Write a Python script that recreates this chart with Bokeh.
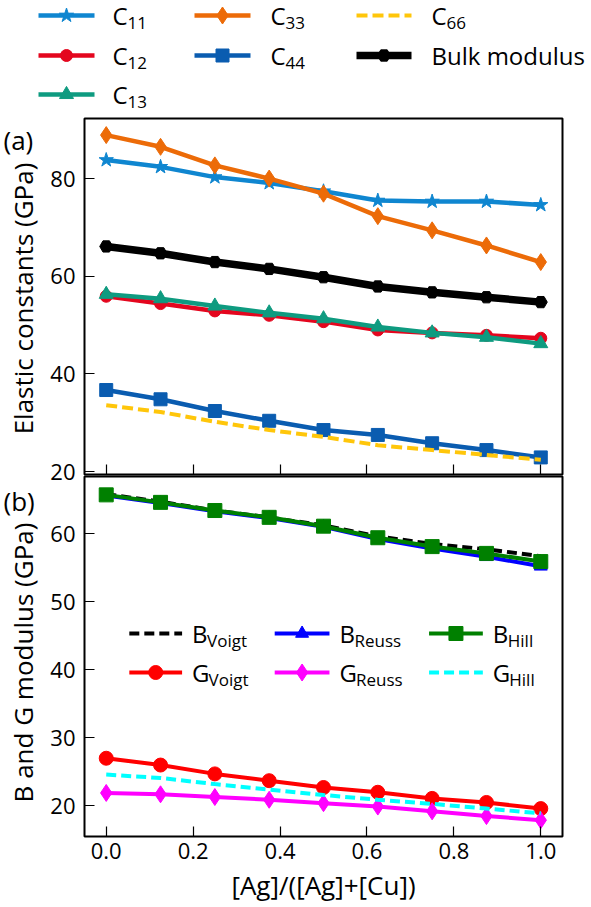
import math
from bokeh.plotting import figure
from bokeh.layouts import column, row
from bokeh.models import Range1d, FixedTicker
from bokeh.embed import file_html
from bokeh.resources import INLINE
from bokeh.core.properties import value

# ---------------- data ----------------
x = [0.0, 0.125, 0.25, 0.375, 0.5, 0.625, 0.75, 0.875, 1.0]
c11 = [83.8, 82.4, 80.3, 79.1, 77.4, 75.5, 75.3, 75.3, 74.6]
c12 = [55.9, 54.4, 52.9, 52.0, 50.7, 49.0, 48.4, 47.9, 47.3]
c13 = [56.3, 55.4, 53.9, 52.5, 51.3, 49.6, 48.4, 47.5, 46.2]
c33 = [88.9, 86.5, 82.7, 80.0, 76.9, 72.3, 69.4, 66.3, 62.9]
c44 = [36.7, 34.8, 32.4, 30.4, 28.5, 27.5, 25.8, 24.4, 22.9]
c66 = [33.6, 32.2, 30.2, 28.5, 27.1, 25.4, 24.4, 23.4, 22.4]
bulk = [66.1, 64.7, 62.9, 61.5, 59.8, 57.9, 56.7, 55.7, 54.7]

b_voigt = [65.8, 64.7, 63.4, 62.4, 61.2, 59.6, 58.5, 57.7, 56.7]
b_reuss = [65.6, 64.5, 63.3, 62.3, 61.0, 59.2, 57.8, 56.6, 55.2]
b_hill = [65.7, 64.6, 63.4, 62.4, 61.1, 59.4, 58.1, 57.1, 55.9]
g_voigt = [27.0, 26.0, 24.7, 23.7, 22.7, 22.0, 21.1, 20.5, 19.6]
g_reuss = [21.9, 21.7, 21.3, 20.9, 20.4, 19.9, 19.2, 18.5, 17.9]
g_hill = [24.6, 24.1, 23.2, 22.4, 21.6, 20.9, 20.3, 19.6, 18.9]

x_ticks = [0.0, 0.2, 0.4, 0.6, 0.8, 1.0]
x_tick_labels = ["0.0", "0.2", "0.4", "0.6", "0.8", "1.0"]
a_ticks = [20, 40, 60, 80]
b_ticks = [20, 30, 40, 50, 60]
x_title = "[Ag]/([Ag]+[Cu])"
a_title = "Elastic constants (GPa)"
b_title = "B and G modulus (GPa)"
a_tag = "(a)"
b_tag = "(b)"

FONT = "Open Sans"
FS = "22px"
XLABFS = "26px"
YLABFS = "26px"
TAGFS = "26px"
LEGFS = "24px"
SUBFS = "17px"

# --------------- styles ---------------
top_series = [
    # key, main, sub, data, color, marker, msize, lw, dash
    ("C11", "C", "11", c11, "#0F86D0", "star", 15, 4.5, "solid"),
    ("C12", "C", "12", c12, "#E4061E", "circle", 12, 4.5, "solid"),
    ("C13", "C", "13", c13, "#0E9B80", "triangle", 14, 4.5, "solid"),
    ("C33", "C", "33", c33, "#EC6B08", "diamond", 17, 4.5, "solid"),
    ("C44", "C", "44", c44, "#0A5CB0", "square", 13, 4.5, "solid"),
    ("C66", "C", "66", c66, "#FFC60A", None, 0, 4, "11 5"),
    ("Bulk", "Bulk modulus", "", bulk, "#000000", "hex", 13, 7.5, "solid"),
]
top_legend_pos = {  # line start, line end, text x, row y (page pixels)
    "C11": (38, 94, 112, 15), "C12": (38, 94, 112, 55), "C13": (38, 94, 112, 94),
    "C33": (194, 250, 270, 15), "C44": (194, 250, 270, 55),
    "C66": (356, 411, 431, 15), "Bulk": (356, 411, 431, 55),
}

bot_series = [
    ("BV", "B", "Voigt", b_voigt, "#000000", None, 0, 4, "10 5"),
    ("BR", "B", "Reuss", b_reuss, "#0000FF", "triangle", 13, 4, "solid"),
    ("BH", "B", "Hill", b_hill, "#008000", "square", 14, 4, "solid"),
    ("GV", "G", "Voigt", g_voigt, "#FF0000", "circle", 14, 4, "solid"),
    ("GR", "G", "Reuss", g_reuss, "#FF00FF", "diamond", 17, 4, "solid"),
    ("GH", "G", "Hill", g_hill, "#00FFFF", None, 0, 4, "10 5"),
]
bot_legend_pos = {
    "BV": (127, 180, 190, 633), "GV": (127, 180, 190, 672),
    "BR": (273, 328, 338, 633), "GR": (273, 328, 338, 672),
    "BH": (428, 482, 492, 633), "GH": (428, 482, 492, 672),
}
main_width = {"C": 15.0, "B": 15.0, "G": 16.5}

W = 591
H = 907
STRIP = 47          # left strip with panel tags and y titles
LEFT = 82           # page x of the frames' left edge
RIGHT = 29
FRAME_W = W - LEFT - RIGHT
XR = (-0.05, 1.05)
LEG_H = 112
A_TOP, A_FRAME, A_BOT = 6, 356, 14    # A_BOT: room for the "20" label, overlapped by panel (b)
B_TOP, B_FRAME = 2, 360
A_H = A_TOP + A_FRAME + A_BOT
B_H = H - LEG_H - A_H + A_BOT


def draw_entry(p, X, Y, x0, x1, xt, y, main, sub, color, marker, ms, lw, dash):
    p.line(x=[X(x0), X(x1)], y=[Y(y), Y(y)], line_color=color, line_width=lw, line_dash=dash)
    if marker:
        p.scatter(x=[X((x0 + x1) / 2)], y=[Y(y)], marker=marker, size=ms,
                  fill_color=color, line_color=color)
    p.text(x=[X(xt)], y=[Y(y)], text=[main], text_font=value(FONT), text_font_size=LEGFS,
           text_baseline="middle", text_align="left", text_color="#000000")
    if sub:
        p.text(x=[X(xt)], y=[Y(y)], text=[sub], text_font=value(FONT), text_font_size=SUBFS,
               text_baseline="middle", text_align="left", text_color="#000000",
               x_offset=main_width.get(main, 0), y_offset=7)


def blank_fig(w, h, xr, yr):
    f = figure(width=w, height=h, x_range=Range1d(*xr), y_range=Range1d(*yr),
               toolbar_location=None, output_backend="svg", min_border=0,
               x_axis_location=None, y_axis_location=None, outline_line_color=None)
    f.grid.visible = False
    try:
        f.frame_align = False
    except Exception:
        pass
    return f


# ------------- legend figure (page pixel coordinates) -------------
leg = blank_fig(W, LEG_H, (0, W), (LEG_H, 0))
ident = lambda v: v
for key, main, sub, data, color, marker, ms, lw, dash in top_series:
    x0, x1, xt, y = top_legend_pos[key]
    draw_entry(leg, ident, ident, x0, x1, xt, y, main, sub, color, marker, ms, lw, dash)

# ------------- left strip: panel tags + y titles (page pixel coordinates) -------------
strip = blank_fig(STRIP, H - LEG_H, (0, STRIP), (H, LEG_H))
a_mid = LEG_H + A_TOP + A_FRAME / 2
b_frame_top = LEG_H + A_TOP + A_FRAME + B_TOP
b_mid = b_frame_top + B_FRAME / 2
strip.text(x=[22, 22], y=[a_mid + 2, b_mid + 6], text=[a_title, b_title], angle=math.pi / 2,
           text_font=value(FONT), text_font_size=YLABFS, text_align="center",
           text_baseline="middle", text_color="#000000")
strip.text(x=[3, 3], y=[LEG_H + A_TOP + 21, b_frame_top + 24], text=[a_tag, b_tag],
           text_font=value(FONT), text_font_size=TAGFS, text_align="left",
           text_baseline="middle", text_color="#000000")


def style_axes(p):
    p.outline_line_color = "#000000"
    p.outline_line_width = 2
    p.grid.visible = False
    for ax in p.axis:
        ax.axis_line_color = None
        ax.major_tick_in = 10
        ax.major_tick_out = 0
        ax.minor_tick_line_color = None
        ax.major_tick_line_color = "#000000"
        ax.major_tick_line_width = 1.2
        ax.major_label_text_font = FONT
        ax.major_label_text_font_size = FS
        ax.major_label_text_color = "#000000"
        ax.axis_label_text_font = FONT
        ax.axis_label_text_font_size = XLABFS
        ax.axis_label_text_font_style = "normal"
        ax.axis_label_text_color = "#000000"


PW = W - STRIP
PLEFT = LEFT - STRIP

# ------------- panel (a) -------------
YA = (19.4, 92.3)
pa = figure(width=PW, height=A_H, x_range=Range1d(*XR), y_range=Range1d(*YA),
            toolbar_location=None, output_backend="svg",
            min_border_left=PLEFT, min_border_right=RIGHT, min_border_top=A_TOP,
            min_border_bottom=A_BOT)
for key, main, sub, data, color, marker, ms, lw, dash in top_series:
    pa.line(x=x, y=data, line_color=color, line_width=lw, line_dash=dash)
    if marker:
        pa.scatter(x=x, y=data, marker=marker, size=ms, fill_color=color, line_color=color)
style_axes(pa)
pa.xaxis.ticker = FixedTicker(ticks=x_ticks)
pa.xaxis.major_label_overrides = {t: "" for t in x_ticks}
pa.xaxis.major_label_text_font_size = "0px"
pa.xaxis.major_label_standoff = 0
pa.yaxis.ticker = FixedTicker(ticks=a_ticks)
pa.yaxis.major_label_standoff = 9

# ------------- panel (b) -------------
YB = (15.5, 68.4)
pb = figure(width=PW, height=B_H, x_range=pa.x_range, y_range=Range1d(*YB),
            toolbar_location=None, output_backend="svg",
            min_border_left=PLEFT, min_border_right=RIGHT, min_border_top=B_TOP,
            min_border_bottom=B_H - B_TOP - B_FRAME)
pb.border_fill_color = None
pb.margin = (-A_BOT, 0, 0, 0)
for key, main, sub, data, color, marker, ms, lw, dash in bot_series:
    pb.line(x=x, y=data, line_color=color, line_width=lw, line_dash=dash)
    if marker:
        pb.scatter(x=x, y=data, marker=marker, size=ms, fill_color=color, line_color=color)
style_axes(pb)
pb.xaxis.ticker = FixedTicker(ticks=x_ticks)
pb.xaxis.major_label_overrides = {t: l for t, l in zip(x_ticks, x_tick_labels)}
pb.xaxis.major_label_standoff = 6
pb.xaxis.axis_label = x_title
pb.xaxis.axis_label_standoff = 5
pb.yaxis.ticker = FixedTicker(ticks=b_ticks)
pb.yaxis.major_label_standoff = 9

# legend inside panel (b): page pixel positions -> data coordinates


def bx(px):
    return XR[0] + (px - LEFT) / FRAME_W * (XR[1] - XR[0])


def by(py):
    return YB[1] - (py - b_frame_top) / B_FRAME * (YB[1] - YB[0])


for key, main, sub, data, color, marker, ms, lw, dash in bot_series:
    x0, x1, xt, y = bot_legend_pos[key]
    draw_entry(pb, bx, by, x0, x1, xt, y, main, sub, color, marker, ms, lw, dash)

layout = column(leg, row(strip, column(pa, pb, spacing=0), spacing=0), spacing=0)
open("out.html", "w").write(file_html(layout, INLINE))
